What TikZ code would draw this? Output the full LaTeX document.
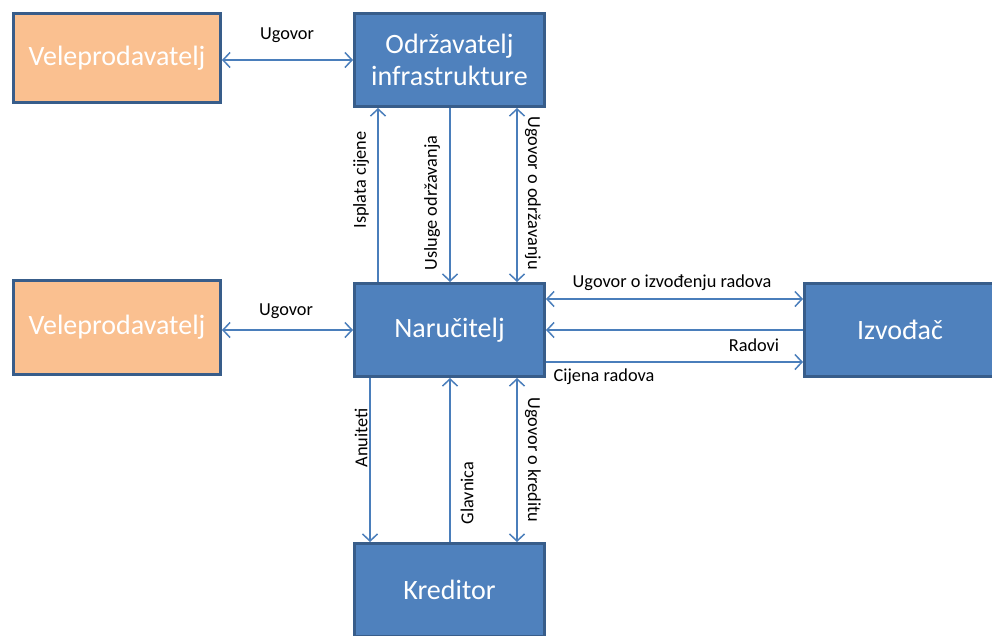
\documentclass[tikz,border=0pt]{standalone}
\usepackage{fontspec}
\setmainfont{Carlito}
\usetikzlibrary{arrows.meta}
\definecolor{boxblue}{HTML}{4F81BD}
\definecolor{boxedge}{HTML}{385D8A}
\definecolor{boxorange}{HTML}{FAC090}
\definecolor{linkblue}{HTML}{4A7EBB}
\tikzset{
  entity/.style={draw=boxedge, line width=3pt, fill=boxblue, text=white,
    font=\fontsize{28}{32}\selectfont, align=center, inner sep=0pt},
  bluebox/.style={entity},
  orangebox/.style={entity, fill=boxorange},
  link/.style={draw=linkblue, line width=1.5pt},
  tip/.style={arrows={-Straight Barb[length=7pt,width=15pt,line width=1.5pt]}},
  twotip/.style={arrows={Straight Barb[length=7pt,width=15pt,line width=1.5pt]-Straight Barb[length=7pt,width=15pt,line width=1.5pt]}},
  lbl/.style={font=\fontsize{18.3}{21}\selectfont, inner sep=0pt, text=black}
}
\begin{document}
\begin{tikzpicture}[x=1pt,y=-1pt]
\useasboundingbox[fill=white] (0,0) rectangle (992,635);
% boxes
\node[orangebox, minimum width=207pt, minimum height=89pt] (vel1) at (117,58) {Veleprodavatelj};
\node[bluebox, minimum width=190pt, minimum height=93pt] (odr) at (449.5,60) {Održavatelj\\infrastrukture};
\node[orangebox, minimum width=207pt, minimum height=94pt] (vel2) at (117,327.5) {Veleprodavatelj};
\node[bluebox, minimum width=190pt, minimum height=93pt] (nar) at (449.5,330) {Naručitelj};
\node[bluebox, minimum width=191pt, minimum height=93pt] (izv) at (900,330) {Izvođač};
\node[bluebox, minimum width=190pt, minimum height=93pt] (kre) at (449.5,590) {Kreditor};
% connectors
\draw[link,twotip] (odr.west -| vel1.east) -- (odr.west);
\draw[link,twotip] (nar.west -| vel2.east) -- (nar.west);
\draw[link,tip] ([xshift=-71.5pt]nar.north) -- ([xshift=-71.5pt]odr.south);
\draw[link,tip] ([xshift=0.5pt]odr.south) -- ([xshift=0.5pt]nar.north);
\draw[link,twotip] ([xshift=67.5pt]odr.south) -- ([xshift=67.5pt]nar.north);
\draw[link,tip] ([xshift=-79.5pt]nar.south) -- ([xshift=-79.5pt]kre.north);
\draw[link,tip] ([xshift=0.5pt]kre.north) -- ([xshift=0.5pt]nar.south);
\draw[link,twotip] ([xshift=67.5pt]nar.south) -- ([xshift=67.5pt]kre.north);
\draw[link,twotip] ([yshift=31pt]nar.east) -- ([yshift=31pt]izv.west);
\draw[link,tip] (izv.west) -- (nar.east);
\draw[link,tip] ([yshift=-32pt]nar.east) -- ([yshift=-32pt]izv.west);
% labels
\node[lbl] (l1) at (287,35) {Ugovor};
\node[lbl] (l2) at (286,311) {Ugovor};
\node[lbl, rotate=90] (l3) at (361,180) {Isplata cijene};
\node[lbl, rotate=90] (l4) at (432,203) {Usluge održavanja};
\node[lbl, rotate=-90] (l5) at (533,193) {Ugovor o održavanju};
\node[lbl, rotate=90] (l6) at (361,438) {Anuiteti};
\node[lbl, rotate=90] (l7) at (467,493) {Glavnica};
\node[lbl, rotate=-90] (l8) at (533,460) {Ugovor o kreditu};
\node[lbl] (l9) at (672,283) {Ugovor o izvođenju radova};
\node[lbl] (l10) at (754,345) {Radovi};
\node[lbl] (l11) at (604,377) {Cijena radova};
\end{tikzpicture}
\end{document}
